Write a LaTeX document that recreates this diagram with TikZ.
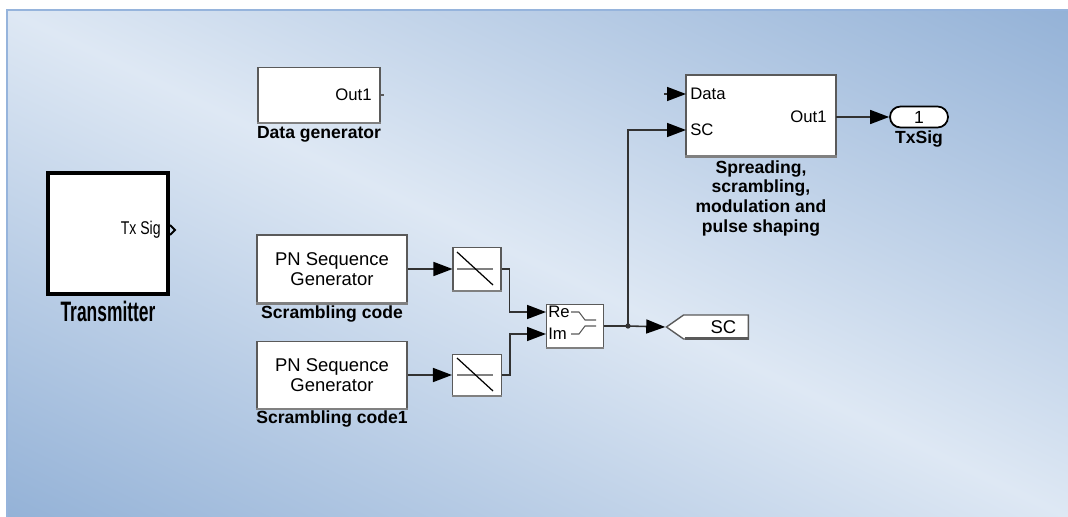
\documentclass[tikz,border=0pt]{standalone}
\usepackage{fontspec}
\setmainfont{Liberation Sans}
\usetikzlibrary{
  arrows.meta,
  positioning,
  shapes.symbols,
  shapes.misc
}
\definecolor{paneldark}{RGB}{148,178,215}
\definecolor{panellight}{RGB}{222,232,244}
\definecolor{panelline}{RGB}{150,180,220}
\definecolor{wire}{RGB}{50,50,50}
\definecolor{blkedge}{RGB}{90,90,90}
\pgfdeclarehorizontalshading{panelbg}{24cm}{color(0cm)=(paneldark);
  color(9.15cm)=(panellight); color(18.3cm)=(paneldark)}

\begin{document}
\begin{tikzpicture}[
  x=0.02cm, y=-0.02cm,
  every node/.style={font=\fontsize{10}{12}\selectfont},
  block/.style={draw=blkedge, fill=white, line width=0.6pt, inner sep=0pt},
  blocklabel/.style={font=\fontsize{10}{11.3}\selectfont\bfseries, align=center, inner sep=0pt},
  portlabel/.style={font=\fontsize{9.5}{11}\selectfont, inner sep=0pt},
  wireline/.style={draw=wire, line width=0.9pt},
  sig/.style={wireline, -{Triangle[length=3.8mm, width=2.8mm, color=black]}}
]

% canvas and shaded panel
\useasboundingbox (0,0) rectangle (1068,517);
\fill[white] (0,0) rectangle (1068,517);
\begin{scope}
  \clip (7,10) rectangle (1068,517);
  \node[inner sep=0pt, rotate=64.5] (panel) at (537.5,263.5) {\pgfuseshading{panelbg}};
\end{scope}
\draw[panelline, line width=1pt] (7,517) -- (7,10) -- (1068,10);

% blocks
\node[block, minimum width=2.44cm, minimum height=1.1cm] (dgen) at (319,95) {};
\node[portlabel, anchor=east] (dgenout) at (372,95) {Out1};
\node[blocklabel, below=1.5pt of dgen] (dgenlbl) {Data generator};

\node[block, draw=black, line width=2pt, minimum width=2.4cm, minimum height=2.42cm] (tx) at (108,233.5) {};
\node[anchor=east, inner sep=0pt] (txport) at (161,230) {\scalebox{0.8}[1.05]{Tx Sig}};
\node[blocklabel, below=3pt of tx] (txlbl) {\fontsize{16}{18}\selectfont\scalebox{0.62}[1]{Transmitter}};

\node[block, minimum width=3cm, minimum height=1.36cm, align=center,
  font=\fontsize{10.5}{11}\selectfont] (pn1) at (332,269) {PN Sequence\\Generator};
\node[blocklabel, below=1pt of pn1] (pn1lbl) {Scrambling code};
\node[block, minimum width=3cm, minimum height=1.34cm, align=center,
  font=\fontsize{10.5}{11}\selectfont] (pn2) at (332,375) {PN Sequence\\Generator};
\node[blocklabel, below=1pt of pn2] (pn2lbl) {Scrambling code1};

\node[block, minimum width=0.96cm, minimum height=0.86cm] (cv1) at (477,269) {};
\node[block, minimum width=0.98cm, minimum height=0.82cm] (cv2) at (477,375) {};

\node[block, minimum width=1.14cm, minimum height=0.86cm] (ri) at (575,326) {};
\node[portlabel, anchor=west] (relbl) at (548,312) {Re};
\node[portlabel, anchor=west] (imlbl) at (548,334) {Im};
\coordinate (rire) at (546,312);
\coordinate (riim) at (546,334);

\node[block, minimum width=3cm, minimum height=1.62cm] (spread) at (761,115.5) {};
\node[portlabel, anchor=west] (spdatalbl) at (690,94) {Data};
\node[portlabel, anchor=west] (spsclbl) at (690,130) {SC};
\node[portlabel, anchor=east] (spoutlbl) at (827,117) {Out1};
\coordinate (spdata) at (686,94);
\coordinate (spsc) at (686,130);
\coordinate (spout) at (836,117);
\coordinate (datastub) at (664,94);
\node[blocklabel, below=2pt of spread] (spreadlbl) {Spreading,\\scrambling,\\modulation and\\pulse shaping};

\node[draw=black, line width=1pt, fill=white, rounded rectangle, minimum width=1.16cm,
  minimum height=0.42cm, inner sep=0pt] (txout) at (919,117) {1};
\node[blocklabel, below=1pt of txout] (txoutlbl) {TxSig};

\node[draw=blkedge, line width=0.8pt, fill=white, signal, signal to=west, signal pointer angle=70,
  minimum width=1.64cm, minimum height=0.48cm, inner sep=0pt,
  font=\fontsize{10.5}{12}\selectfont] (gotosc) at (716,327) {\hspace*{0.3cm}SC};

% block shading and icons
\foreach \b in {dgen, pn1, pn2, cv1, cv2, ri, spread}
  \draw[gray, line width=1.4pt] (\b.south west) -- (\b.south east);
\draw[blkedge, line width=1.4pt] (gotosc.south east) -- ++(-64,0);
\foreach \c in {cv1, cv2} {
  \draw[gray, line width=1.2pt] (\c.center) ++(-20,0) -- ++(36,0);
  \draw[black, line width=0.7pt] (\c.center) ++(-20,-17) -- ++(36,33);
}
\draw[blkedge, line width=0.6pt] (571,312) -- (579,312) -- (585,320) -- (596,320);
\draw[blkedge, line width=0.6pt] (571,334) -- (579,334) -- (585,326) -- (596,326);
\draw[blkedge, line width=0.8pt] (dgen.east) -- ++(3,0);
\draw[black, line width=1.2pt] (170,225) -- (175,230) -- (170,235);

% connections
\draw[sig] (pn1.east) -- (cv1.west);
\draw[sig] (pn2.east) -- (cv2.west);
\draw[sig] (cv1.east) -- ++(8,0) |- (rire);
\draw[sig] (cv2.east) -- ++(8,0) |- (riim);
\coordinate (branch) at (628,326);
\draw[wireline] (ri.east) -- (branch);
\draw[sig] (branch) -- (gotosc.west);
\draw[sig] (branch) |- (spsc);
\fill[wire] (branch) circle[radius=1.5pt];
\draw[sig] (datastub) -- (spdata);
\draw[sig] (spout) -- (txout.west);

\end{tikzpicture}
\end{document}
